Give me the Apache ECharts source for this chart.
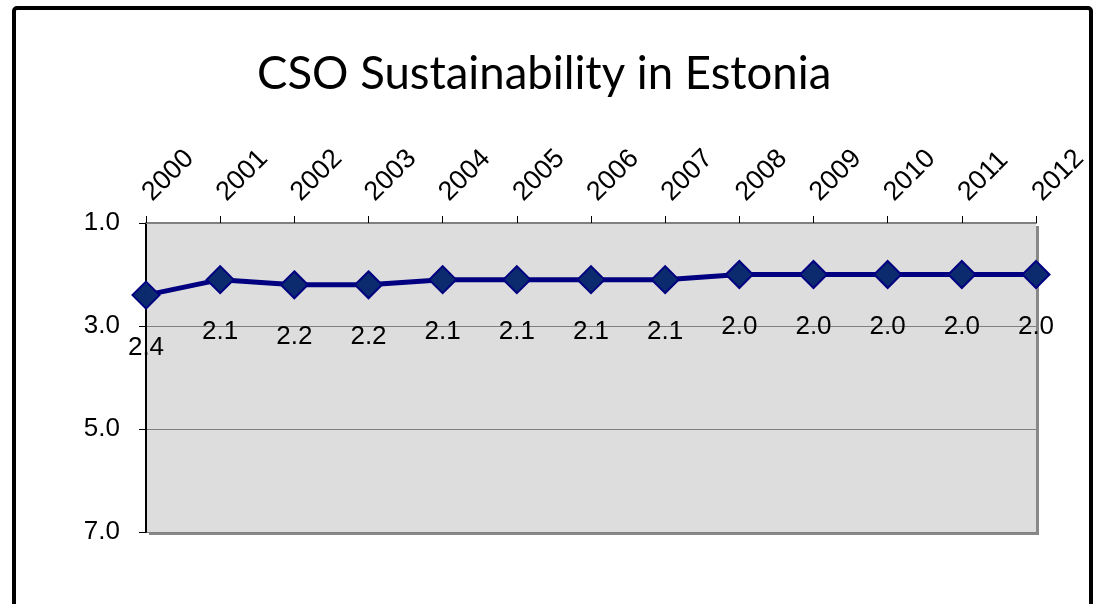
<!DOCTYPE html>
<html><head><meta charset="utf-8">
<script src="https://cdn.jsdelivr.net/npm/echarts@6/dist/echarts.min.js"></script>
<style>html,body{margin:0;padding:0;background:#fff}#c{width:1099px;height:604px}</style>
</head><body><div id="c"></div>
<script>
const years = ['2000','2001','2002','2003','2004','2005','2006','2007','2008','2009','2010','2011','2012'];
const scores = [2.4, 2.1, 2.2, 2.2, 2.1, 2.1, 2.1, 2.1, 2.0, 2.0, 2.0, 2.0, 2.0];
const yTicks = [1, 3, 5, 7];
const title = 'CSO Sustainability in Estonia';

const chart = echarts.init(document.getElementById('c'), null, {renderer: 'canvas'});
chart.setOption({
  animation: false,
  backgroundColor: '#fff',
  title: {
    text: title, left: 252, top: 46,
    textStyle: {fontFamily: 'Lato', fontWeight: 'normal', fontSize: 45.5, color: '#000'}
  },
  graphic: [{
    type: 'rect', shape: {x: 14, y: 8, width: 1077, height: 620, r: 3},
    style: {fill: 'none', stroke: '#000', lineWidth: 4}, z: 100
  }],
  grid: {
    left: 146, top: 223, right: 63, bottom: 72, show: true,
    backgroundColor: '#dddddd', borderWidth: 0,
    shadowColor: '#888', shadowOffsetX: 3, shadowOffsetY: 3, shadowBlur: 0
  },
  xAxis: {
    type: 'category', data: years, position: 'top', boundaryGap: false,
    axisLine: {lineStyle: {color: '#808080', width: 2}},
    axisTick: {show: true, alignWithLabel: true, length: 7, lineStyle: {color: '#000', width: 1}},
    axisLabel: {rotate: -45, margin: 6, align: 'left', verticalAlign: 'bottom', padding: [0, 0, 0, 15],
      fontFamily: 'Liberation Sans', fontSize: 27, color: '#000', interval: 0}
  },
  yAxis: {
    type: 'value', inverse: true, min: 1, max: 7, interval: 2,
    axisLine: {show: true, lineStyle: {color: '#000', width: 2}},
    axisTick: {show: true, length: 7, lineStyle: {color: '#000'}},
    axisLabel: {margin: 26, fontFamily: 'Liberation Sans', fontSize: 26, color: '#000',
      formatter: v => yTicks.includes(v) ? v.toFixed(1) : ''},
    splitLine: {show: true, lineStyle: {color: '#808080', width: 1}}
  },
  series: [{
    type: 'line', data: scores,
    lineStyle: {color: '#000080', width: 5},
    symbol: 'diamond', symbolSize: 27,
    itemStyle: {color: '#0b2b6e', borderColor: '#000080', borderWidth: 2},
    label: {show: true, position: 'bottom', distance: 25,
      fontFamily: 'Liberation Sans', fontSize: 26, color: '#000',
      formatter: p => p.value.toFixed(1)}
  }]
});
</script></body></html>
